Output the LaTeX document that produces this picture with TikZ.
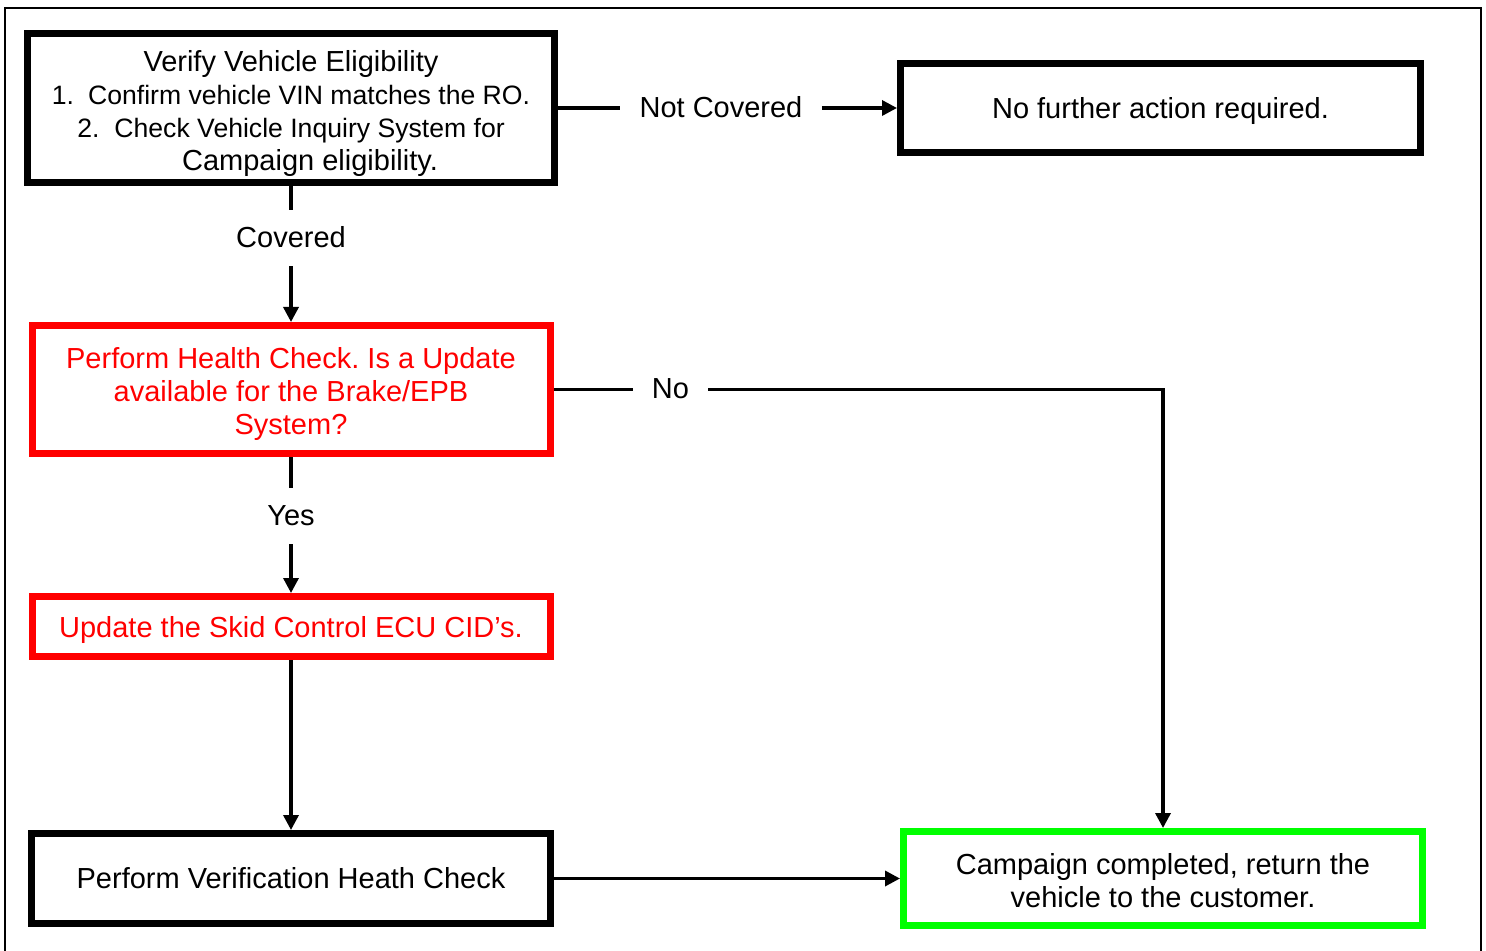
\documentclass[tikz,border=0pt]{standalone}
\usepackage{fontspec}
\setmainfont{Liberation Sans}
\usetikzlibrary{positioning, arrows.meta}
\usepackage{xcolor}
\definecolor{flowred}{HTML}{FF0000}
\definecolor{flowgreen}{HTML}{00FF00}
\frenchspacing
\newcommand{\boxsize}{\fontsize{14.5pt}{16.5pt}\selectfont}
\newcommand{\listsize}{\fontsize{13.3pt}{16.5pt}\selectfont}
% taller first line pushes the text a little down in its box
\newcommand{\toppad}[1]{\rule{0pt}{#1}}
\tikzset{
  flowbox/.style={draw=black, line width=3.5pt, fill=white, align=center,
                  inner sep=0pt, font=\boxsize},
  redbox/.style={flowbox, draw=flowred, text=flowred},
  greenbox/.style={flowbox, draw=flowgreen},
  flowlabel/.style={fill=white, inner xsep=9.5pt, inner ysep=6.5pt,
                    text height=12pt, text depth=2.9pt, font=\boxsize},
  flowline/.style={line width=1.7pt},
  flowarrow/.style={flowline, -{Triangle[length=7.5pt,width=7.5pt]}}
}

\begin{document}
\begin{tikzpicture}[x=0.5pt, y=-0.5pt]
        \useasboundingbox (0,0) rectangle (1486,951);
        % page frame, open at the bottom
        \draw[line width=1pt] (5,960) -- (5,8) -- (1481,8) -- (1481,960);

        \node[flowbox, minimum width=263.5pt, minimum height=74.5pt] (verify) at (291,108)
              {\toppad{15.6pt}Verify Vehicle Eligibility\\
               {\listsize 1.\hspace{7pt}Confirm vehicle VIN matches the RO.}\\
               {\listsize 2.\hspace{7.5pt}Check Vehicle Inquiry System for}\\
               \hspace*{19pt}Campaign eligibility.};
        \node[flowbox, minimum width=260pt, minimum height=44.5pt] (nofurther) at (1160.5,108)
              {\toppad{14pt}No further action required.};
        \node[redbox, minimum width=259pt, minimum height=64pt] (health) at (291,389.5)
              {\toppad{14.6pt}Perform Health Check. Is a Update\\ available for the Brake/EPB\\ System?};
        \node[redbox, minimum width=259pt, minimum height=30pt] (update) at (291,626.5)
              {\toppad{14pt}Update the Skid Control ECU CID’s.};
        \node[flowbox, minimum width=259.5pt, minimum height=45pt] (perform) at (291,878.5)
              {Perform Verification Heath Check};
        \node[greenbox, minimum width=259.5pt, minimum height=47pt] (done) at (1163,878.5)
              {\toppad{12.6pt}Campaign completed, return the\\ vehicle to the customer.};

        \node[flowlabel] (notcovered) at (721,108) {Not Covered};
        \node[flowlabel] (covered) at (291,238) {Covered};
        \node[flowlabel] (no) at (670.5,389.5) {No};
        \node[flowlabel] (yes) at (291,516) {Yes};

        \draw[flowline] (verify) -- (notcovered);
        \draw[flowarrow] (notcovered) -- (nofurther);
        \draw[flowline] (verify) -- (covered);
        \draw[flowarrow] (covered) -- (health);
        \draw[flowline] (health) -- (no);
        \draw[flowarrow] (no) -| (done);
        \draw[flowline] (health) -- (yes);
        \draw[flowarrow] (yes) -- (update);
        \draw[flowarrow] (update) -- (perform);
        \draw[flowarrow] (perform) -- (done);
      \end{tikzpicture}
\end{document}
